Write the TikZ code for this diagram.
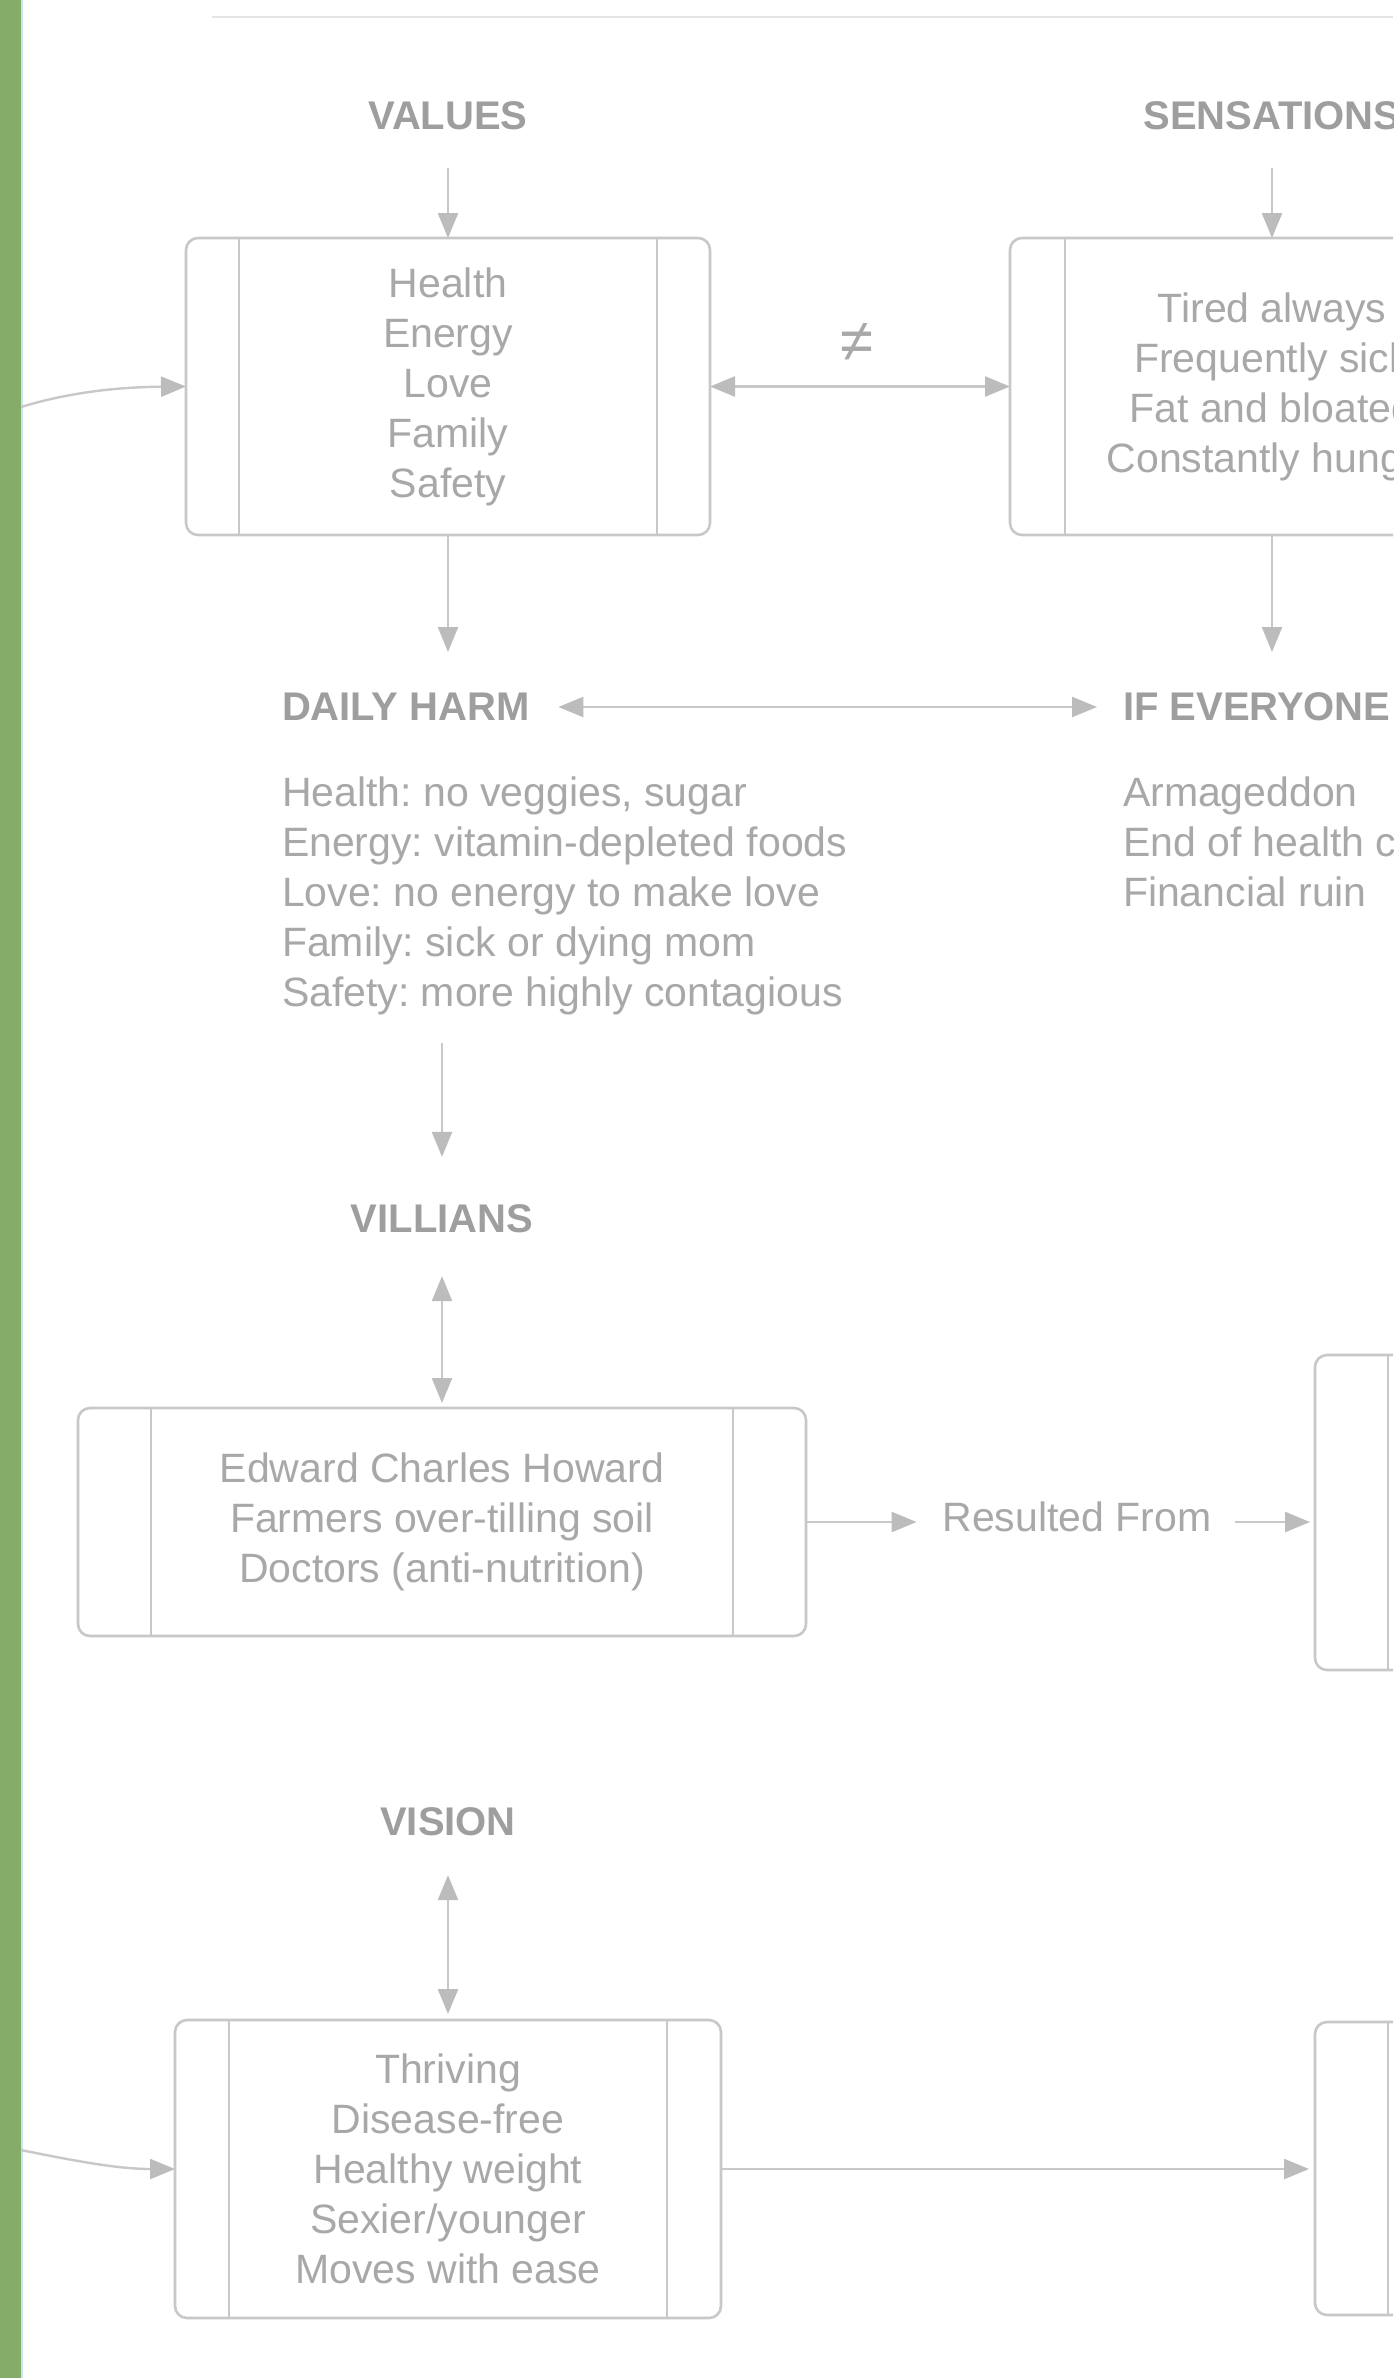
\documentclass[tikz,border=0pt]{standalone}
\usepackage{fontspec}
\setmainfont{Liberation Sans}
\usetikzlibrary{arrows.meta}
\definecolor{linec}{RGB}{200,200,200}
\definecolor{tipc}{RGB}{188,188,188}
\definecolor{textc}{RGB}{168,168,168}
\definecolor{labc}{RGB}{158,158,158}
\definecolor{barc}{RGB}{134,172,106}
\definecolor{edgec}{RGB}{200,230,236}
\definecolor{rulec}{RGB}{228,228,228}
\newcommand\procinner[2]{\draw[linec,line width=1.3pt] ([xshift=#2]#1.north west) -- ([xshift=#2]#1.south west) ([xshift=-#2]#1.north east) -- ([xshift=-#2]#1.south east);}
\frenchspacing
\begin{document}
\frenchspacing
\begin{tikzpicture}[x=0.5pt,y=-0.5pt,
  body/.style={font=\fontsize{20.5pt}{25pt}\selectfont\frenchspacing, text=textc, inner sep=0pt, outer sep=0pt},
  lab/.style={font=\fontsize{20pt}{24pt}\selectfont\bfseries, text=labc, inner sep=0pt, outer sep=0pt},
  procbox/.style={body, draw=linec, line width=1.3pt, rounded corners=6pt, fill=white, align=center},
  arr/.style={draw=linec, line width=1.2pt, -{Triangle[length=12.5pt,width=10pt,color=tipc]}},
  darr/.style={draw=linec, line width=1.2pt, {Triangle[length=12.5pt,width=10pt,color=tipc]}-{Triangle[length=12.5pt,width=10pt,color=tipc]}},
]
\useasboundingbox (0,0) rectangle (1393,2378);
\clip (0,0) rectangle (1393,2378);
\fill[white] (0,0) rectangle (1393,2378);
% left bar and top rule
\fill[barc] (0,0) rectangle (21,2378);
\fill[edgec] (21,0) rectangle (23,2378);
\draw[rulec, line width=1pt] (212,17) -- (1393,17);

% row 1
\node[lab] (values) at (448,116) {VALUES};
\node[lab] (sens) at (1272,116) {SENSATIONS};
\node[procbox, minimum width=262pt, minimum height=148.5pt] (vbox) at (448,386.5) {Health\\Energy\\Love\\Family\\Safety};
\procinner{vbox}{26.5pt}
\node[procbox, minimum width=262pt, minimum height=148.5pt] (sbox) at (1272,386.5) {Tired always\\Frequently sick\\Fat and bloated\\Constantly hungry};
\procinner{sbox}{27.5pt}
\draw[arr] ([yshift=-19pt]values.south) -- (vbox.north);
\draw[arr] ([yshift=-19pt]sens.south) -- (sbox.north);
\draw[darr] (vbox.east) -- (sbox.west);
\node[body, font=\fontsize{30pt}{30pt}\selectfont] (neq) at (857,343) {≠};
\coordinate (lin1) at (21,407);
\draw[arr] (lin1) .. controls (70,392) and (120,387) .. (vbox.west);

% row 2
\coordinate (vdown) at (448,652);
\coordinate (sdown) at (1272,652);
\draw[arr] (vbox.south) -- (vdown);
\draw[arr] (sbox.south) -- (sdown);
\node[lab, anchor=west] (harm) at (282,707) {DAILY HARM};
\node[lab, anchor=west] (ifev) at (1123,707) {IF EVERYONE};
\draw[darr, shorten <=14.5pt, shorten >=13pt] (harm.east) -- (ifev.west);
\node[body, anchor=north west, align=left] (harmlist) at (282,777) {Health: no veggies, sugar\\Energy: vitamin-depleted foods\\Love: no energy to make love\\Family: sick or dying mom\\Safety: more highly contagious};
\node[body, anchor=north west, align=left] (ifevlist) at (1123,777) {Armageddon\\End of health c\\Financial ruin};

% row 3
\node[lab] (vill) at (442,1219) {VILLIANS};
\coordinate (hlbot) at (442,1043);
\draw[arr, shorten >=24pt] (hlbot) -- (vill);
\node[procbox, minimum width=364pt, minimum height=114pt] (vilbox) at (442,1522) {Edward Charles Howard\\Farmers over-tilling soil\\Doctors (anti-nutrition)};
\procinner{vilbox}{36.5pt}
\draw[darr, shorten <=21.5pt, shorten >=2.5pt] (vill) -- (vilbox);
\node[body] (res) at (1077,1517) {Resulted From};
\node[procbox, minimum width=364pt, minimum height=157.5pt] (box3) at (1679,1512.5) {};
\procinner{box3}{36.5pt}
\draw[arr, shorten >=13pt] (vilbox.east) -- (vilbox.east -| res.west);
\draw[arr, shorten <=12pt, shorten >=2.5pt] (res.east |- vilbox.east) -- (box3.west |- vilbox.east);

% row 4
\node[lab] (vision) at (448,1822) {VISION};
\node[procbox, minimum width=273pt, minimum height=149pt] (visbox) at (448,2169) {Thriving\\Disease-free\\Healthy weight\\Sexier/younger\\Moves with ease};
\procinner{visbox}{27pt}
\draw[darr, shorten <=19.5pt, shorten >=3pt] (vision) -- (visbox);
\node[procbox, minimum width=364pt, minimum height=146.5pt] (box4) at (1679,2168.5) {};
\procinner{box4}{36.5pt}
\draw[arr, shorten >=3pt] (visbox.east) -- (box4.west |- visbox.east);
\coordinate (lin2) at (21,2150);
\draw[arr] (lin2) .. controls (80,2162) and (120,2169) .. (visbox.west);
\end{tikzpicture}
\end{document}
